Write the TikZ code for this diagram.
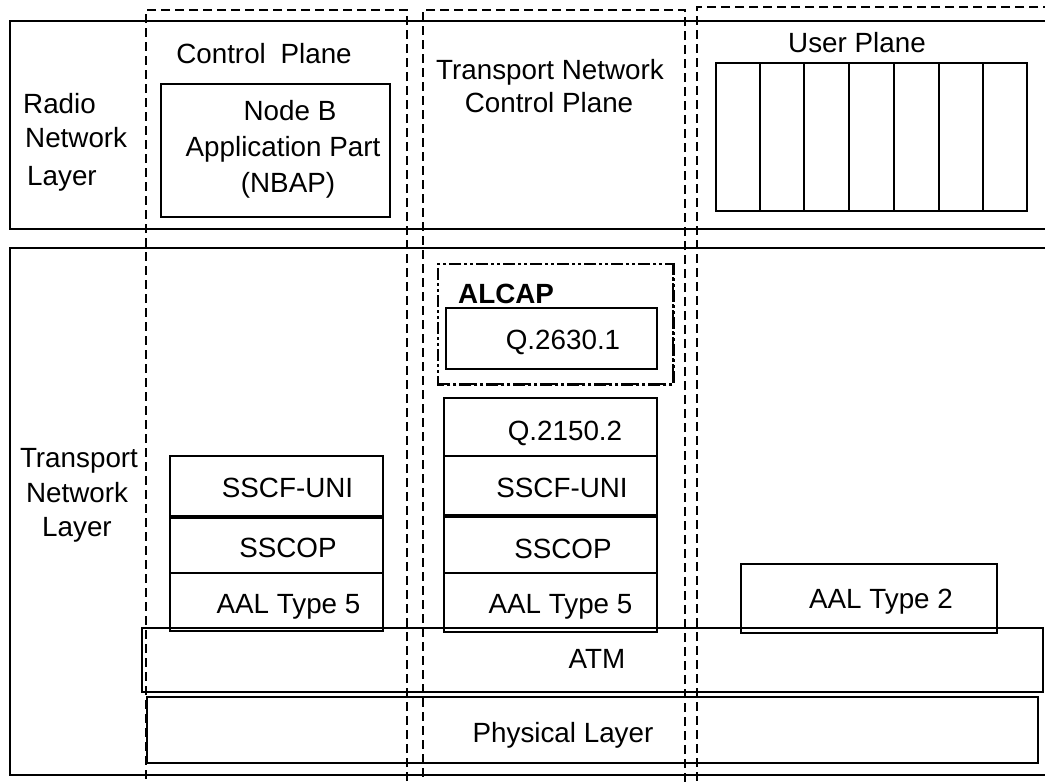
\documentclass[tikz,border=0pt]{standalone}
\usepackage{fontspec}
\setmainfont{Liberation Sans}
\usetikzlibrary{calc,fit}
\begin{document}
\begin{tikzpicture}[x=1pt,y=-1pt,
  every node/.style={font=\fontsize{27.8}{33}\selectfont},
  box/.style={draw, line width=2pt, inner sep=0pt},
  plane/.style={draw, line width=1.7pt, dash pattern=on 9pt off 5pt, inner sep=0pt},
  alcapline/.style={draw, line width=2.4pt, dash pattern=on 12pt off 3pt on 3pt off 3pt on 3pt off 3pt, inner sep=0pt},
  lbl/.style={inner sep=0pt, anchor=base}]
\useasboundingbox (0,0) rectangle (1045,782);
\clip (0,0) rectangle (1045,782);

% layer frames
\node[box, fit={(10,21) (1060,229)}] (rnl) {};
\node[box, fit={(10,248) (1060,775)}] (tnl) {};

% planes
\node[plane, fit={(146,10) (407,800)}] (cp) {};
\node[plane, fit={(423,10) (685,800)}] (tncp) {};
\node[plane, fit={(697,7) (1080,800)}] (up) {};

% radio network layer
\node[lbl, anchor=base west] (rnl1) at (23,113) {Radio};
\node[lbl, anchor=base west] (rnl2) at (25,147) {Network};
\node[lbl, anchor=base west] (rnl3) at (27,185) {Layer};

% control plane
\node[lbl] (cptxt) at (264,63) {Control\hspace{7pt} Plane};
\node[box, fit={(161,84) (390,217)}] (nbap) {};
\node[lbl] (nbap1) at (290,120) {Node B};
\node[lbl] (nbap2) at (283,156) {Application Part};
\node[lbl] (nbap3) at (288,192) {(NBAP)};

% transport network control plane
\node[lbl] (tncp1) at (550,79) {Transport Network};
\node[lbl] (tncp2) at (549,112) {Control Plane};

% user plane
\node[lbl] (uptxt) at (857,52) {User Plane};
\node[box, fit={(716,63) (1027,211)}] (upbox) {};
\foreach \k in {1,...,6}
  \draw[line width=2pt] ($(upbox.north west)!\k/7!(upbox.north east)$) -- ($(upbox.south west)!\k/7!(upbox.south east)$);

% transport network layer
\node[lbl] (tnl1) at (79,467) {Transport};
\node[lbl] (tnl2) at (77,502) {Network};
\node[lbl] (tnl3) at (77,536) {Layer};

% ALCAP
\node[alcapline, fit={(438,264) (673,384)}] (alcap) {};
\draw[alcapline, line width=3.6pt] ([xshift=-0.6pt]alcap.north east) -- ([xshift=-0.6pt,yshift=0.6pt]alcap.south east) -- ([yshift=0.6pt]alcap.south west);
\node[lbl, anchor=base west, font=\fontsize{27.8}{33}\selectfont\bfseries] (alcaptxt) at (458,303) {ALCAP};
\node[box, fit={(446,308) (657,369)}] (q2630) {};
\node[lbl] (q2630txt) at (563,349) {Q.2630.1};

% signalling stack of the transport network control plane
\node[box, fit={(444,398) (657,456)}] (q2150) {};
\node[box, fit={(444,456) (657,515)}] (sscfb) {};
\node[box, fit={(444,515) (657,573)}] (sscopb) {};
\node[box, fit={(444,573) (657,632)}] (aalb) {};
\draw[line width=3.5pt] (sscfb.south west) -- (sscfb.south east);
\node[lbl] (q2150txt) at (565,440) {Q.2150.2};
\node[lbl] (sscfbtxt) at (562,497) {SSCF-UNI};
\node[lbl] (sscopbtxt) at (563,558) {SSCOP};
\node[lbl] (aalbtxt) at (560.5,613) {AAL Type 5};

% signalling stack of the control plane
\node[box, fit={(170,456) (383,516)}] (sscfa) {};
\node[box, fit={(170,516) (383,573)}] (sscopa) {};
\node[box, fit={(170,573) (383,631)}] (aala) {};
\draw[line width=3.5pt] (sscfa.south west) -- (sscfa.south east);
\node[lbl] (sscfatxt) at (287.5,497) {SSCF-UNI};
\node[lbl] (sscopatxt) at (288,557) {SSCOP};
\node[lbl] (aalatxt) at (288.5,613) {AAL Type 5};

% user plane transport
\node[box, fit={(741,564) (997,633)}] (aal2) {};
\node[lbl] (aal2txt) at (881,608) {AAL Type 2};

% common layers
\node[box, fit={(142,628) (1043,692)}] (atm) {};
\node[lbl] (atmtxt) at (597,668) {ATM};
\node[box, fit={(147,697) (1038,763)}] (phy) {};
\node[lbl] (phytxt) at (563,742) {Physical Layer};
\end{tikzpicture}
\end{document}
